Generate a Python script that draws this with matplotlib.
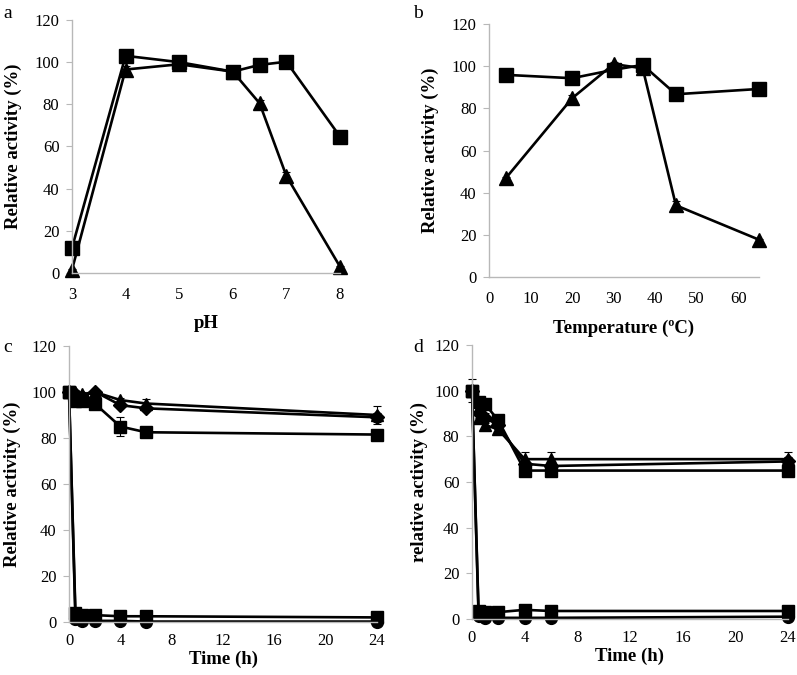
import matplotlib
matplotlib.use("Agg")
import matplotlib.pyplot as plt
import numpy as np

# Panel a: pH
ph = [3, 4, 5, 6, 6.5, 7, 8]
ph_sq = [11.9, 103, 100, 95.5, 98.7, 100.2, 64.7]
ph_sq_err = [1, 1, 2.5, 1, 2, 1, 2]
ph_tri = [1.5, 96.5, 99, 95.5, 80.5, 46, 3]
ph_tri_err = [0.5, 1.5, 1, 1, 1.5, 2, 0.5]

# Panel b: temperature
temp = [4, 20, 30, 37, 45, 65]
t_sq = [95.9, 94.3, 98.3, 100.6, 86.7, 89.2]
t_sq_err = [1, 1, 1, 1, 1, 2]
t_tri = [46.8, 84.8, 101, 99, 34, 17.7]
t_tri_err = [0.5, 1.5, 1, 1, 2, 0.5]

# Panel c: time
time_h = [0, 0.5, 1, 2, 4, 6, 24]
c_sq_hi = [100, 96, 96, 95, 85, 82.5, 81.5]
c_sq_hi_err = [0, 1, 1, 2.5, 4, 1, 1]
c_dia = [100, 99, 98, 100.2, 94.3, 92.9, 89]
c_dia_err = [0, 1, 1, 1, 1, 1, 2]
c_tri = [100, 100, 99, 100, 96.5, 95, 90]
c_tri_err = [0, 1, 1, 1, 1, 2, 4]
c_sq_lo = [100, 4, 3, 3, 2.5, 2.5, 2]
c_circ = [100, 1.5, 0.5, 0.5, 0.5, 0.2, 0.2]

# Panel d: time
d_sq_hi = [100, 95, 94, 87, 65, 65, 65]
d_sq_hi_err = [5, 1, 1, 2, 1, 1, 1]
d_tri = [100, 88, 85, 83, 70, 70, 70]
d_tri_err = [0, 2, 2, 2, 3, 3, 3]
d_dia = [100, 90, 88, 85, 68, 67, 69]
d_dia_err = [0, 2, 2, 2, 2, 2, 2]
d_sq_lo = [100, 3.5, 3, 3, 4, 3.5, 3.5]
d_circ = [100, 1.5, 0.5, 0.5, 0.5, 0.5, 1]

plt.rcParams['font.family'] = ['Liberation Serif', 'DejaVu Serif']

fig = plt.figure(figsize=(7.97, 6.75), dpi=100)

def style(ax, xlim, xticks, xlabel, ylabel):
    ax.set_ylim(0, 120)
    ax.set_yticks(range(0, 121, 20))
    ax.set_xlim(*xlim)
    ax.set_xticks(xticks)
    for s in ['top', 'right']:
        ax.spines[s].set_visible(False)
    for s in ['left', 'bottom']:
        ax.spines[s].set_color('#b8b8b8')
        ax.spines[s].set_linewidth(1.0)
    ax.tick_params(axis='y', direction='out', length=4, color='#b8b8b8', labelsize=12, pad=5)
    ax.tick_params(axis='x', length=0, labelsize=12, pad=10)
    ax.set_xlabel(xlabel, fontsize=13.5, fontweight='bold', labelpad=9)
    ax.set_ylabel(ylabel, fontsize=13.5, fontweight='bold', labelpad=9)

lw = 1.9
ekw = dict(color='black', lw=lw, capsize=3, elinewidth=0.8, capthick=0.8, clip_on=False)

# a
axa = fig.add_axes([0.0903, 0.5956, 0.3363, 0.3748])
axa.errorbar(ph, ph_sq, yerr=ph_sq_err, marker='s', ms=10, **ekw)
axa.errorbar(ph, ph_tri, yerr=ph_tri_err, marker='^', ms=9.5, **ekw)
style(axa, (3, 8), [3, 4, 5, 6, 7, 8], 'pH', 'Relative activity (%)')

# b
axb = fig.add_axes([0.6136, 0.5896, 0.3387, 0.3748])
axb.errorbar(temp, t_sq, yerr=t_sq_err, marker='s', ms=10, **ekw)
axb.errorbar(temp, t_tri, yerr=t_tri_err, marker='^', ms=9.5, **ekw)
style(axb, (0, 65), [0, 10, 20, 30, 40, 50, 60], 'Temperature (ºC)', 'Relative activity (%)')

# c
axc = fig.add_axes([0.0866, 0.0785, 0.3864, 0.4089])
axc.errorbar(time_h, c_sq_hi, yerr=c_sq_hi_err, marker='s', ms=9, **ekw)
axc.errorbar(time_h, c_dia, yerr=c_dia_err, marker='D', ms=7, **ekw)
axc.errorbar(time_h, c_tri, yerr=c_tri_err, marker='^', ms=8.5, **ekw)
axc.plot(time_h, c_sq_lo, color='black', lw=lw, marker='s', ms=9, clip_on=False)
axc.plot(time_h, c_circ, color='black', lw=lw, marker='o', ms=8.5, clip_on=False)
style(axc, (0, 24), [0, 4, 8, 12, 16, 20, 24], 'Time (h)', 'Relative activity (%)')
axc.xaxis.labelpad = 1
axc.yaxis.labelpad = 8
axc.tick_params(axis='x', pad=8)

# d
axd = fig.add_axes([0.5922, 0.0830, 0.3965, 0.4059])
axd.errorbar(time_h, d_sq_hi, yerr=d_sq_hi_err, marker='s', ms=9, **ekw)
axd.errorbar(time_h, d_tri, yerr=d_tri_err, marker='^', ms=8.5, **ekw)
axd.errorbar(time_h, d_dia, yerr=d_dia_err, marker='D', ms=7, **ekw)
axd.plot(time_h, d_sq_lo, color='black', lw=lw, marker='s', ms=9, clip_on=False)
axd.plot(time_h, d_circ, color='black', lw=lw, marker='o', ms=8.5, clip_on=False)
style(axd, (0, 24), [0, 4, 8, 12, 16, 20, 24], 'Time (h)', 'relative activity (%)')
axd.xaxis.labelpad = 1
axd.yaxis.labelpad = 5
axd.tick_params(axis='x', pad=8)

for lab, (x, y) in zip('abcd', [(3, 14), (413, 14), (3, 348), (413, 347)]):
    fig.text(x / 797, 1 - y / 675, lab, fontsize=14, va='center', ha='left')

fig.savefig('out.png', dpi=100)
